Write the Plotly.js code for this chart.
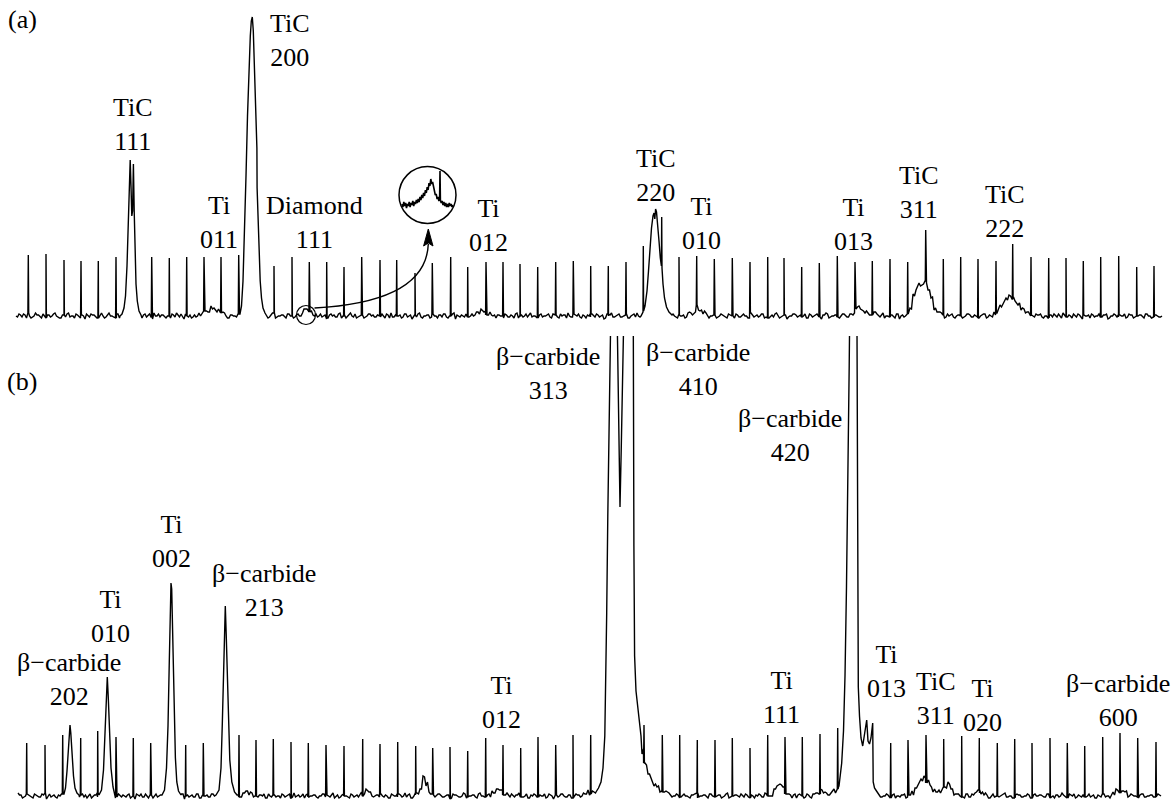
<!DOCTYPE html>
<html><head><meta charset="utf-8">
<script src="https://cdn.plot.ly/plotly-3.0.1.min.js"></script>
<style>html,body{margin:0;padding:0;background:#fff}#chart{width:1172px;height:806px}</style>
</head><body><div id="chart"></div>
<script>
// ---------- Panel (a) ----------
// baseline jitter (intensity units): grid start 16, step 3; second set offset by 1.5
const noiseA = [
0,2,-1,1,3,-2,0,1,-1,2,-2,1,0,3,-1,-2,1,2,-1,0,
2,-1,1,-3,0,2,1,-2,1,0,-1,3,0,-2,2,1,-1,0,2,-2,
1,0,-2,2,1,-1,3,0,-1,1,-2,0,2,-1,1,2,-3,0,1,-1,
-1,2,0,1,-2,3,1,-1,0,2,-1,-2,1,0,2,-1,1,3,-2,0,
1,-1,2,0,-2,1,3,-1,0,1,-2,2,0,-1,1,-3,2,1,0,-1,
2,0,-1,1,-2,2,1,-1,3,0,-2,1,0,2,-1,1,-2,0,2,1,
-1,0,2,-2,1,3,-1,0,1,-1,2,0,-3,1,2,-1,0,1,-2,2,
0,1,-1,2,-2,0,3,1,-1,0,2,-1,1,-2,0,2,1,-1,3,0,
-2,1,0,2,-1,1,-2,3,0,-1,2,1,-1,0,-2,2,0,1,-1,2,
1,-2,0,1,3,-1,2,0,-1,1,-2,0,2,-1,1,0,-3,2,1,-1,
0,2,-1,1,-2,0,2,3,-1,0,1,-2,1,0,-1,2,-2,1,0,2,
-1,1,0,-2,2,1,-1,3,0,-1,2,-2,0,1,-1,2,0,-2,1,0,
2,-1,1,0,-2,3,-1,1,0,2,-1,-2,1,2,0,-1,1,-3,0,2,
1,0,-1,2,-2,1,0,2,-1,1,3,-2,0,1,-1,0,2,-1,1,-2,
0,2,1,-1,0,-2,2,1,-1,3,0,-1,1,-2,2,0,-1,1,0,2,
-2,1,0,2,-1,1,-3,0,2,1,-1,0,2,-2,1,0,-1,2,1,-1,
0,-2,1,2,-1,0,3,-1,1,-2,0,2,-1,1,0,-2,2,1,-1,0,
2,1,-1,0,-2,1,2,-1,0,3,-1,1,-2,0,2,-1,1,0,-2,1,
0,2,-1,1,-3,0,2,-1,1,0,-2,2,1,-1,0,1,-2,2,0,-1,
1,-1,0];
const noiseA2 = [
-1,1,2,-2,0,-1,3,1,-2,0,1,-1,2,0,-2,1,-1,3,0,-2,
1,-2,0,2,-1,1,-1,0,3,-2,1,0,-1,2,-2,0,1,-1,2,1,
-2,0,1,-1,2,-3,0,2,1,-1,0,-2,1,3,-1,0,2,-1,-2,1,
0,-1,2,1,-2,0,-1,2,0,1,-3,1,0,-1,2,1,-2,0,1,-1,
2,-2,1,0,-1,3,-2,0,1,-1,2,0,-2,1,-1,0,2,-1,1,-2,
-1,2,0,-3,1,0,-1,2,-2,1,0,3,-1,-2,0,1,-1,2,0,-1,
1,-1,0,2,-2,-1,1,0,-2,2,-1,1,0,-1,3,-2,0,1,-1,0,
-2,1,2,-1,0,2,-3,0,1,-1,2,0,-1,1,-2,0,2,-1,0,1,
1,0,-2,1,-1,0,2,-2,1,0,-1,3,0,-2,1,-1,0,2,-2,1,
-1,2,1,-2,0,-1,1,2,-2,0,1,-1,0,2,-1,1,-2,0,3,-1,
1,-1,0,2,-2,1,-1,0,1,-2,2,0,-1,1,0,-2,1,2,-1,0,
-2,0,1,-1,3,-1,0,-2,1,2,-1,0,1,-2,0,1,-1,2,0,-2,
1,-1,2,0,-2,1,0,-1,2,-2,1,0,-1,3,-2,0,1,-1,0,2,
-1,1,0,-2,2,-1,1,0,-3,1,2,-1,0,1,-2,2,0,-1,1,0,
2,-1,0,1,-2,0,2,-1,1,-2,0,1,-1,2,-3,1,0,2,-1,0,
1,-2,1,0,-1,2,-1,0,1,-2,2,1,-1,0,1,-2,0,2,-1,1,
-1,0,2,-2,1,-1,0,3,-1,0,-2,1,1,-1,2,0,-2,1,0,-1,
1,2,-2,0,1,-1,0,2,-2,1,-1,0,2,-1,1,-3,0,1,2,-1,
0,-1,1,2,-2,0,1,-1,0,2,-1,1,-2,0,1,-1,2,0,-2,1,
0,-1,1];
// small broad reflections (start x on grid, values per grid step)
const bumpAx = [199, 298, 472, 688, 850, 907, 994];
const bumpAv = [
 [1,2,4,6,7,7,5,3,2,1],            // Ti 011
 [1,3,5,6,4,2],                    // Diamond 111
 [1,3,4,5,3,2,1],                  // Ti 012
 [1,2,4,8,5,3,1],                  // Ti 010
 [1,3,7,8,5,4,3,3,2,1],            // Ti 013
 [1,8,20,28,32,31,33,27,17,9,4,2], // TiC 311
 [1,4,10,15,18,19,18,14,11,8,5,3,1] // TiC 222
];
// strong reflections (explicit profiles)
const pkTiC111 = {x:[120,122,124,125.5,127,128.3,129.3,130.2,131,131.8,132.6,133.4,134.2,135,136,137.3,139,141],
                  y:[0,2,8,20,50,95,135,156,130,100,105,152,105,60,32,15,5,1]};
const pkTiC200 = {x:[240,241.5,243,244.5,246,247.5,249,250.3,251.3,252.3,253.3,254.3,255.3,256.2,256.9,257.1,258,259,260.2,261.5,263,265,267],
                  y:[2,10,35,80,140,200,250,280,295,299,285,245,205,180,168,128,100,65,35,18,8,3,0]};
const pkTiC220 = {x:[641,643,643.3,643.6,645,647,648.5,650,651.5,653,654,654.8,655.6,656.5,657.7,659,660.3,661.4,661.7,662,663,664.5,666.5,669,672],
                  y:[0,4,70,5,10,25,45,68,88,100,103,97,107,104,92,75,58,50,99,48,32,18,9,4,1]};
// periodic spikes
const spikeAx = [28.3,46,64,81,98.3,116,151.7,169.3,186.7,204,221,238.7,274,292,309.3,326.7,344,361.7,380,396.7,415,432.3,450.7,467.7,486,503,520,537.7,555.7,573.3,590.7,608.3,626,679,696.7,714.3,732.3,750,767.7,784,801.7,819.3,837.3,855,872.3,890,907.7,925.7,943.3,960.7,978,996,1012.7,1031,1048.7,1066,1083.3,1100.7,1118.7,1136.7,1154];
const spikeAtop = [61,62,56,55,55,59,59,58,59,59,59,61,50,59,54,54,49,59,56,56,43,53,59,49,54,54,52,49,54,55,50,50,54,59,60,57,58,54,59,58,49,53,60,54,55,57,54,86,57,59,57,55,72,59,58,58,55,59,60,49,50];
// magnified inset of Diamond 111
const insetX = [402,402.9,403.8,404.7,405.6,406.5,407.4,408.3,409.2,410.1,411,411.9,412.8,413.7,414.6,415.5,416.4,417.3,418.2,419.1,420,420.9,421.8,422.7,423.6,424.5,425.4,426.3,427.2,428.1,429,429.9,430.8,431.7,432.6,433.5,434.4,435.3,436.2,437.1,438,438.9,439.6,440,440.4,441.2,442.1,443,443.9,444.8,445.7,446.6,447.5,448.4,449.3,450.2,451.1,452,452.9];
const insetY = [20,17,22,18,21,16,20,18,22,17,21,19,23,18,22,20,24,21,25,22,27,24,29,26,31,28,34,31,37,34,41,38,45,40,42,36,34,29,30,25,27,23,25,53,24,21,23,19,22,18,21,17,20,17,21,18,20,17,19];

// ---------- Panel (b) ----------
const noiseB = [
3,1,-1,2,0,-2,1,-1,2,3,0,-1,1,-2,0,2,-1,1,2,-2,
0,1,-1,-2,2,0,1,3,-1,0,-2,1,2,-1,0,1,-1,2,0,-3,
1,2,-1,0,1,-2,2,0,-1,1,3,-1,0,-2,1,2,0,-1,1,-1,
2,-2,0,1,-1,2,1,-3,0,2,-1,1,0,2,-2,0,1,-1,3,0,
-1,1,2,-2,0,1,-1,0,2,-1,1,-2,3,0,-1,2,1,-1,0,1,
-2,0,2,1,-1,3,0,-2,1,0,-1,2,-1,1,0,-3,2,1,-1,0,
1,2,-1,0,-2,1,0,2,-1,3,1,-2,0,1,-1,2,-2,0,1,-1,
2,0,-1,1,-3,2,1,-1,0,2,-1,0,1,-2,3,0,-1,1,2,-2,
0,1,-2,2,-1,0,1,3,-1,0,-2,1,2,-1,1,0,-2,2,0,1,
-1,2,0,-1,1,-2,2,1,-1,0,3,-2,0,1,-1,2,0,-1,1,-2,
2,0,1,-2,1,-1,0,2,-3,1,0,2,-1,1,-2,0,2,1,-1,0,
1,-1,2,0,-2,1,3,-1,0,1,-2,2,-1,0,1,-1,2,-2,0,1,
0,2,-1,1,-2,0,1,2,-1,3,0,-2,1,-1,0,2,-1,1,-2,2,
1,0,-2,2,-1,1,0,-3,2,1,-1,0,2,-1,1,-2,0,2,1,-1,
0,1,-1,2,0,-2,3,1,-1,0,1,-2,2,0,-1,1,-2,0,2,1,
-1,0,2,-1,1,-2,0,2,1,-1,3,0,-2,1,0,-1,2,-1,1,0,
2,-1,0,1,-2,2,0,-1,1,3,-1,0,-2,2,1,-1,0,1,-2,2,
0,1,-1,2,-2,0,1,-1,3,0,-2,1,2,-1,0,1,-1,2,0,-2,
1,-1,2,0,-3,1,2,-1,0,1,-2,2,0,-1,1,2,-1,0,1,-1,
2,0];
const noiseB2 = [
1,-2,0,1,-1,2,0,-1,1,-3,2,0,-1,1,2,-2,0,1,-1,0,
-1,2,1,0,-2,1,-1,2,0,-1,1,0,-2,2,-1,0,1,-2,1,2,
0,-1,2,-2,1,0,-1,1,2,-2,0,1,-1,0,2,-3,1,0,-1,2,
-2,1,0,-1,2,0,-2,1,1,-1,0,2,-1,1,-2,0,1,2,-1,0,
1,0,-2,2,-1,1,0,-2,1,0,2,-1,-1,1,0,-2,2,0,1,-1,
0,2,-1,0,1,-2,1,-1,2,0,-2,1,0,-1,3,-1,0,1,-2,1,
-1,0,1,-2,2,0,-1,1,0,-1,2,-2,1,0,-1,1,2,-2,0,1,
2,-1,0,1,-2,1,0,-1,3,-2,0,1,-1,2,0,-1,1,-2,0,2,
-1,1,-2,0,2,-1,1,0,-1,2,-2,0,1,-1,0,2,-1,1,-3,1,
0,2,-1,1,-2,0,1,-1,2,0,-2,1,-1,0,2,-1,1,0,-2,1,
1,-1,2,-2,0,1,0,-1,2,-1,0,-2,1,2,-1,0,1,-1,0,2,
-2,1,0,-1,1,2,-2,0,1,-1,2,0,-1,1,-2,0,3,-1,0,1,
-1,0,2,-1,1,-2,0,1,-1,2,0,-2,1,0,-1,2,-1,0,1,-2,
2,0,-1,1,-2,1,0,2,-1,0,-1,2,-2,1,0,-1,1,0,2,-2,
0,1,-1,2,-2,0,1,-1,0,2,-1,1,-2,0,1,2,-1,0,-2,1,
1,-2,0,2,-1,1,0,-1,2,-2,1,0,-1,1,0,-2,2,-1,0,1,
-1,1,2,-2,0,-1,1,0,2,-1,0,-2,1,1,-1,0,2,-2,1,0,
1,0,-1,2,-1,-2,1,0,1,-1,2,0,-2,1,-1,2,0,-1,1,-2,
0,2,-1,0,1,-2,1,-1,0,2,-1,1,0,-2,2,-1,0,1,-1,0,
1,-1];
const bumpBx = [240, 360, 417, 489, 582, 642, 771, 813, 825, 909, 972, 1110];
const bumpBv = [
 [1,3,4,2],
 [1,3,5,3,1],
 [2,8,18,12,4,1],
 [1,3,5,7,5,3,1],                 // Ti 012
 [1,2,3,4,4],
 [45,32,22,16,11,8,6,4,3,2],      // tail of beta 410
 [2,6,11,12,7,3,1],               // Ti 111
 [1,3,5,4,2],
 [1,2,3,5,8],
 [1,3,7,12,17,18,14,10,6,4,4,6,10,11,7,3,1], // TiC 311
 [1,3,4,3,1],                     // Ti 020
 [1,3,5,4,5,3,1]                  // beta 600
];
const pkB202 = {x:[64,65.5,67,68.3,69.3,70,70.8,72,73.5,75,77,79], y:[2,8,25,48,65,71,63,42,20,8,3,1]};
const pkTi010 = {x:[99,101.5,103.5,105,106.3,107.3,108.3,109.5,111,113,115], y:[1,6,26,60,100,119,98,60,28,9,2]};
const pkTi002 = {x:[162,164.5,166.5,168,169.2,170.2,171,171.7,172.4,173.3,174.3,175.4,176.8,178.5,181], y:[1,6,28,70,130,190,213,207,180,128,78,38,14,5,1]};
const pkB213 = {x:[216,219,221,222.3,223.4,224.4,225.3,226.2,227.2,228.4,229.8,231.8,234.5,237], y:[1,6,28,72,125,170,190,162,118,72,36,14,4,1]};
const pkB313 = {x:[596,598.5,601,603,604.8,606,606.7,607.8,609,610.3,612,614,615.5,617.3,618.8,620,621.2,623.3,625.5,628,631,633.3,633.9,634.6,636,638,641],
                y:[4,8,14,28,60,120,183,280,370,480,620,700,640,470,340,289,345,480,640,700,650,470,250,140,105,85,60]};
const pkB420 = {x:[839,841.7,843.5,845,846.5,848,849.2,850.5,852.5,855,856.8,857.5,858.3,859.5,861,862.7,864.5,866.7,868,869.5,871,872.2,872.7,873.2,874.5,876.5,878.5],
                y:[10,33,65,120,210,320,430,560,700,680,520,250,109,80,58,50,62,76,55,52,58,66,73,14,8,5,2]};
const spikeBx = [26.7,45,62.7,80.7,97.7,116,133.3,150.7,185.7,203.3,239,256,273.3,291,308.3,326,344,362.7,380,397.7,415.7,432.7,450,467.7,485.7,503,520.7,538,555.7,573,590.7,644,662.3,679.7,697.3,715,732.3,750,767.7,785,802.3,820,837.7,890.7,908,926,943.7,961.7,979.3,997.3,1014.7,1032,1050,1067.3,1084.7,1102.7,1120,1137.7,1156];
const spikeBtop = [53,51,61,58,65,59,58,53,51,53,61,56,57,54,53,51,50,57,52,54,50,48,49,45,58,51,48,59,51,61,61,71,61,61,56,56,58,48,61,59,59,62,68,53,56,61,57,60,58,53,57,53,58,53,50,59,63,58,54];

// ---------- labels (x centre, y centre in page px) ----------
const labelText = [
 'TiC<br>111','TiC<br>200','Ti<br>011','Diamond<br>111','Ti<br>012','TiC<br>220','Ti<br>010','Ti<br>013','TiC<br>311','TiC<br>222',
 'β−carbide<br>313','β−carbide<br>410','β−carbide<br>420','Ti<br>002','β−carbide<br>213','Ti<br>010','β−carbide<br>202',
 'Ti<br>012','Ti<br>111','Ti<br>013','TiC<br>311','Ti<br>020','β−carbide<br>600','(a)','(b)'];
const labelX = [132.5,290,218.5,314.5,488,656,701,853.5,919,1005,
 548,698,789.5,171,264,110,69,501.5,781.5,886.5,936,982.5,1117.5,22,22];
const labelY = [124,40,222,222.5,226,175,224,224.5,192.75,211.25,
 373.5,369.5,435,541.5,590.25,616.5,679.5,702,697,671.75,698.5,705.5,700,19.5,382];

// ---------- assemble ----------
function buildPanel(x0, step, noise, noise2, bx, bv, profiles, sx, st) {
  const gy = noise.slice(), gy2 = noise2.slice();
  bx.forEach((b, k) => {
    const i0 = Math.round((b - x0) / step);
    bv[k].forEach((v, j) => {
      if (i0 + j < gy.length) gy[i0 + j] += v;
      if (i0 + j < gy2.length) gy2[i0 + j] += v;
    });
  });
  const inside = x => profiles.some(p => x >= p.x[0] && x <= p.x[p.x.length - 1]);
  const pts = [];
  gy.forEach((v, i) => { const x = x0 + step * i; if (!inside(x)) pts.push([x, v]); });
  gy2.forEach((v, i) => { const x = x0 + step * i + step / 2; if (x <= x0 + step * (gy.length - 1) && !inside(x)) pts.push([x, v]); });
  profiles.forEach(p => p.x.forEach((x, i) => pts.push([x, p.y[i]])));
  sx.forEach((x, k) => {
    const i = Math.min(gy.length - 1, Math.max(0, Math.round((x - x0) / step)));
    const base = gy[i];
    pts.push([x - 0.4, base], [x, st[k]], [x + 0.4, base]);
  });
  pts.sort((a, b) => a[0] - b[0]);
  return {x: pts.map(p => p[0]), y: pts.map(p => p[1])};
}

const A = buildPanel(16, 3, noiseA, noiseA2, bumpAx, bumpAv, [pkTiC111, pkTiC200, pkTiC220], spikeAx, spikeAtop);
const B = buildPanel(18, 3, noiseB, noiseB2, bumpBx, bumpBv, [pkB202, pkTi010, pkTi002, pkB213, pkB313, pkB420], spikeBx, spikeBtop);

const W = 1172, H = 806;
const lineStyle = {color:'#000', width:1.4};
const traces = [
  {x:A.x, y:A.y, xaxis:'x', yaxis:'y', mode:'lines', line:lineStyle, hoverinfo:'skip', showlegend:false},
  {x:B.x, y:B.y, xaxis:'x2', yaxis:'y2', mode:'lines', line:lineStyle, hoverinfo:'skip', showlegend:false},
  {x:insetX, y:insetY, xaxis:'x3', yaxis:'y3', mode:'lines', line:{color:'#000', width:1.6}, hoverinfo:'skip', showlegend:false}
];

const font = {family:'Liberation Serif, Times New Roman, serif', size:26, color:'#000'};
const ann = labelText.map((t, i) => ({
  xref:'x', yref:'paper', x:labelX[i], y:1 - labelY[i] / H, text:t, showarrow:false,
  xanchor:'center', yanchor:'middle', align:'center', font:font, borderpad:0
}));

const hidden = {visible:false, showgrid:false, zeroline:false, fixedrange:true};
const layout = {
  width:W, height:H, margin:{l:0, r:0, t:0, b:0},
  paper_bgcolor:'#fff', plot_bgcolor:'rgba(0,0,0,0)',
  xaxis: Object.assign({domain:[0,1], range:[0,W], anchor:'y'}, hidden),
  yaxis: Object.assign({domain:[1 - 330/H, 1], range:[-14, 316], anchor:'x'}, hidden),
  xaxis2: Object.assign({domain:[0,1], range:[0,W], anchor:'y2'}, hidden),
  yaxis2: Object.assign({domain:[0, 470/H], range:[-10, 460], anchor:'x2'}, hidden),
  xaxis3: Object.assign({domain:[401/W, 455/W], range:[401, 455], anchor:'y3'}, hidden),
  yaxis3: Object.assign({domain:[1 - 224/H, 1 - 166/H], range:[0, 58], anchor:'x3'}, hidden),
  annotations: ann,
  shapes: [
    {type:'circle', xref:'x', yref:'y', x0:296.5, x1:315.5, y0:-8.5, y1:10.5, line:{color:'#000', width:1.2}},
    {type:'circle', xref:'x', yref:'y', x0:399, x1:456, y0:92.5, y1:149.5, line:{color:'#000', width:1.5}},
    {type:'path', xref:'x', yref:'y', path:'M 314.5,8 Q 426,14 428.3,72', line:{color:'#000', width:1.4}},
    {type:'path', xref:'x', yref:'y', path:'M 428.3,87 L 423.6,70 L 428.3,73 L 433,70 Z', fillcolor:'#000', line:{color:'#000', width:1}}
  ]
};
Plotly.newPlot('chart', traces, layout, {staticPlot:true, displayModeBar:false});
</script>
</body></html>
